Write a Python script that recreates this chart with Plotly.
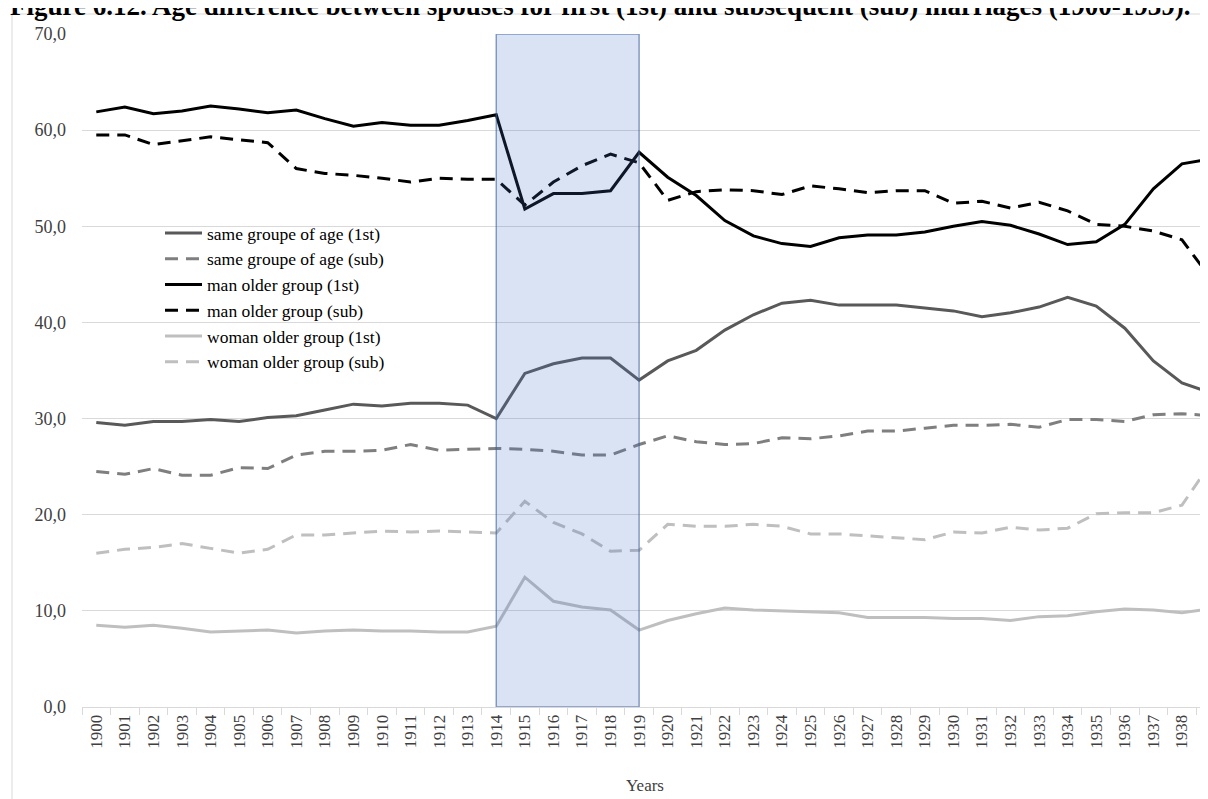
import plotly.graph_objects as go

years = list(range(1900, 1940))

same_1st = [29.6, 29.3, 29.7, 29.7, 29.9, 29.7, 30.1, 30.3, 30.9, 31.5,
            31.3, 31.6, 31.6, 31.4, 30.0, 34.7, 35.7, 36.3, 36.3, 34.0,
            36.0, 37.1, 39.2, 40.8, 42.0, 42.3, 41.8, 41.8, 41.8, 41.5,
            41.2, 40.6, 41.0, 41.6, 42.6, 41.7, 39.4, 36.0, 33.7, 32.7]
same_sub = [24.5, 24.2, 24.8, 24.1, 24.1, 24.9, 24.8, 26.2, 26.6, 26.6,
            26.7, 27.3, 26.7, 26.8, 26.9, 26.8, 26.6, 26.2, 26.2, 27.3,
            28.2, 27.6, 27.3, 27.4, 28.0, 27.9, 28.2, 28.7, 28.7, 29.0,
            29.3, 29.3, 29.4, 29.1, 29.9, 29.9, 29.7, 30.4, 30.5, 30.3]
man_1st = [61.9, 62.4, 61.7, 62.0, 62.5, 62.2, 61.8, 62.1, 61.2, 60.4,
           60.8, 60.5, 60.5, 61.0, 61.6, 51.8, 53.4, 53.4, 53.7, 57.7,
           55.1, 53.2, 50.6, 49.0, 48.2, 47.9, 48.8, 49.1, 49.1, 49.4,
           50.0, 50.5, 50.1, 49.2, 48.1, 48.4, 50.2, 53.9, 56.5, 57.0]
man_sub = [59.5, 59.5, 58.5, 58.9, 59.3, 59.0, 58.7, 56.0, 55.5, 55.3,
           55.0, 54.6, 55.0, 54.9, 54.9, 52.2, 54.6, 56.3, 57.5, 56.6,
           52.7, 53.6, 53.8, 53.7, 53.3, 54.2, 53.9, 53.5, 53.7, 53.7,
           52.4, 52.6, 51.9, 52.5, 51.6, 50.2, 50.0, 49.5, 48.6, 44.6]
woman_1st = [8.5, 8.3, 8.5, 8.2, 7.8, 7.9, 8.0, 7.7, 7.9, 8.0,
             7.9, 7.9, 7.8, 7.8, 8.4, 13.5, 11.0, 10.4, 10.1, 8.0,
             9.0, 9.7, 10.3, 10.1, 10.0, 9.9, 9.8, 9.3, 9.3, 9.3,
             9.2, 9.2, 9.0, 9.4, 9.5, 9.9, 10.2, 10.1, 9.8, 10.2]
woman_sub = [16.0, 16.4, 16.6, 17.0, 16.5, 16.0, 16.4, 17.9, 17.9, 18.1,
             18.3, 18.2, 18.3, 18.2, 18.1, 21.4, 19.2, 18.0, 16.2, 16.3,
             19.0, 18.8, 18.8, 19.0, 18.8, 18.0, 18.0, 17.8, 17.6, 17.4,
             18.2, 18.1, 18.7, 18.4, 18.6, 20.1, 20.2, 20.2, 21.0, 25.3]

series_names = ["same groupe of age (1st)", "same groupe of age (sub)",
                "man older group (1st)", "man older group (sub)",
                "woman older group (1st)", "woman older group (sub)"]
series_values = [same_1st, same_sub, man_1st, man_sub, woman_1st, woman_sub]
series_colors = ["#595959", "#7f7f7f", "#000000", "#000000", "#bfbfbf", "#bfbfbf"]
series_dash = ["solid", "13px,8px", "solid", "13px,8px", "solid", "13px,8px"]

highlight = (1914, 1919)
title_text = "Figure 6.12. Age difference between spouses for first (1st) and subsequent (sub) marriages (1900-1939)."

SERIF = "Liberation Serif, Times New Roman, serif"

# page is offset by 8px body margin; work in figure coords
L, T, B_PIX = 74, 26, 699          # plot left, top, bottom (figure px)
PW, PH = 1126, B_PIX - T           # plot width / height


def px_x(p):
    return (p - L) / PW


def px_y(p):
    return (B_PIX - p) / PH


fig = go.Figure()
for name, vals, col, dsh in zip(series_names, series_values, series_colors, series_dash):
    fig.add_trace(go.Scatter(x=years, y=vals, name=name, mode="lines",
                             line=dict(color=col, width=3, dash=dsh)))

fig.add_shape(type="rect", xref="x", yref="y", x0=highlight[0], x1=highlight[1],
              y0=0, y1=70, layer="above",
              fillcolor="rgba(68,114,196,0.2)",
              line=dict(color="rgba(60,95,160,0.6)", width=1.5))

# chart frame
fig.add_shape(type="rect", xref="paper", yref="paper",
              x0=px_x(4), x1=1.05, y0=-0.3, y1=px_y(6),
              line=dict(color="#d9d9d9", width=1), fillcolor="rgba(0,0,0,0)",
              layer="below")

fig.add_annotation(text="<b>" + title_text + "</b>", xref="paper", yref="paper",
                   x=px_x(0), y=px_y(-2), xanchor="left", yanchor="middle",
                   showarrow=False, font=dict(family=SERIF, size=27, color="#000000"))

fig.update_layout(
    width=1208, height=799,
    margin=dict(l=L, r=1208 - L - PW, t=T, b=799 - B_PIX),
    paper_bgcolor="white", plot_bgcolor="white",
    separators=", ",
    showlegend=True,
    font=dict(family=SERIF, color="#404040"),
    legend=dict(x=px_x(152), y=px_y(207), xanchor="left", yanchor="top",
                bgcolor="rgba(0,0,0,0)", font=dict(family=SERIF, size=17.5, color="#000000"),
                tracegroupgap=0, itemwidth=37),
)

fig.update_xaxes(
    range=[1899.5, 1899.5 + PW / 28.57],
    tickmode="array", tickvals=years, ticktext=[str(y) for y in years],
    tickangle=-90, ticks="", showgrid=False,
    showline=True, linecolor="#d9d9d9", linewidth=1,
    tickfont=dict(family=SERIF, size=17, color="#404040"),
    minor=dict(tick0=1899.5, dtick=1, ticks="outside", ticklen=7, tickcolor="#d9d9d9", showgrid=False),
    title=dict(text="Years", font=dict(family=SERIF, size=17, color="#404040"), standoff=31),
    zeroline=False,
)
fig.update_yaxes(
    range=[0, 70], dtick=10, tickformat=".1f",
    showgrid=True, gridcolor="#d9d9d9", gridwidth=1,
    zeroline=False, showline=False, ticks="",
    ticklabelstandoff=15,
    tickfont=dict(family=SERIF, size=18, color="#404040"),
)

fig.write_html("out.html")
